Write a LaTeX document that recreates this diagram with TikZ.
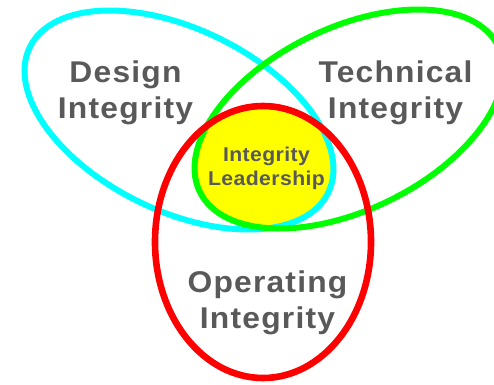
\documentclass[tikz,border=0pt]{standalone}
\usepackage{fontspec}
\setmainfont{Liberation Sans}
\newfontfamily\ringfont[FakeStretch=1.06, LetterSpace=4]{Liberation Sans}
\newfontfamily\corefont[FakeStretch=1.06, LetterSpace=2]{Liberation Sans}
\usepackage{xcolor}
\usepackage{tikz}
\definecolor{txt}{HTML}{595959}
\definecolor{ringC}{HTML}{00FFFF}
\definecolor{ringG}{HTML}{00FF00}
\definecolor{ringR}{HTML}{FF0000}
\definecolor{core}{HTML}{FFFF00}
\tikzset{
  big/.style={text=txt, font=\ringfont\bfseries\fontsize{30}{36}\selectfont, align=center, inner sep=0pt},
  small/.style={text=txt, font=\corefont\bfseries\fontsize{20}{24}\selectfont, align=center, inner sep=0pt},
  ring/.style={line width=6pt},
  ringD/.style={rotate around={-26:(D)}},
  ringT/.style={rotate around={26:(T)}}
}

\begin{document}
\begin{tikzpicture}[x=1pt,y=-1pt]
\useasboundingbox (0,0) rectangle (494,384);
\coordinate (D) at (179,120);
\coordinate (T) at (349,119);
\coordinate (O) at (263,242);

% common part
\begin{scope}
\clip[ringD] (D) ellipse [x radius=166pt, y radius=91pt];
\clip[ringT] (T) ellipse [x radius=166pt, y radius=91pt];
\fill[core] (O) ellipse [x radius=108pt, y radius=136pt];
\end{scope}

% rings
\draw[ring, ringC, ringD] (D) ellipse [x radius=166pt, y radius=91pt];
\draw[ring, ringG, ringT] (T) ellipse [x radius=166pt, y radius=91pt];
\draw[ring, ringR, line width=6.6pt] (O) ellipse [x radius=108pt, y radius=136pt];

% labels
\node[big] (design) at (125.5,92.5) {Design\\Integrity};
\node[big] (tech) at (395.5,92.5) {Technical\\Integrity};
\node[big] (oper) at (267.5,302.5) {Operating\\Integrity};
\node[small] (lead) at (266.5,168) {Integrity\\Leadership};
\end{tikzpicture}
\end{document}
